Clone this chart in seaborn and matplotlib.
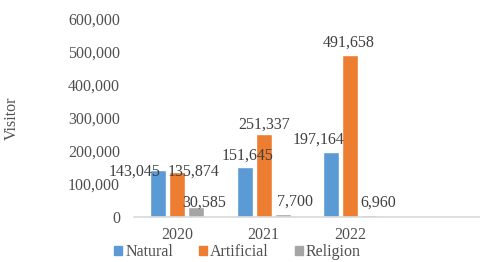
import matplotlib
matplotlib.use("Agg")
import matplotlib.pyplot as plt
import seaborn as sns
import pandas as pd
from matplotlib.ticker import FuncFormatter

# data
years = ["2020", "2021", "2022"]
types = ["Natural", "Artificial", "Religion"]
natural = [143045, 151645, 197164]
artificial = [135874, 251337, 491658]
religion = [30585, 7700, 6960]

colors = ["#5B9BD5", "#ED7D31", "#A5A5A5"]
# label nudges (points) so the numbers sit roughly where they were in the original
label_offsets = {
    "Natural": [(-17, -1.5), (2, 8), (-9, 8.5)],
    "Artificial": [(12, 0), (0, 7), (-1, 8.5)],
    "Religion": [(6, 3), (9, 9), (6.5, 8.5)],
}

df = pd.DataFrame({
    "year": years * 3,
    "type": [t for t in types for _ in years],
    "visitor": natural + artificial + religion,
})

sns.set_style("white")
plt.rcParams["font.family"] = ["Liberation Serif", "DejaVu Serif"]
plt.rcParams["font.size"] = 11.5

fig = plt.figure(figsize=(4.8, 2.62), dpi=100)
ax = fig.add_axes([0.279, 0.172, 0.721, 0.756])

sns.barplot(data=df, x="year", y="visitor", hue="type", order=years,
            hue_order=types, palette=colors, width=0.66, gap=0.15,
            saturation=1, ax=ax)

ax.set_xlim(-0.5, 3.5)
ax.set_ylim(0, 600000)
ax.set_yticks(range(0, 600001, 100000))
ax.yaxis.set_major_formatter(FuncFormatter(lambda v, _: f"{int(v):,}"))
ax.tick_params(axis="both", length=0, colors="#505050", labelsize=11.5)
ax.tick_params(axis="y", pad=10)
ax.tick_params(axis="x", pad=7)

for s in ["top", "right", "left"]:
    ax.spines[s].set_visible(False)
ax.spines["bottom"].set_color("#D9D9D9")
ax.spines["bottom"].set_linewidth(1.2)

ax.set_xlabel("")
ax.set_ylabel("Visitor", fontsize=11.5, color="#505050")
ax.yaxis.set_label_coords(-0.33, 0.5)

# data labels
for cont, t in zip(ax.containers, types):
    for bar, (dx, dy) in zip(cont, label_offsets[t]):
        h = bar.get_height()
        ax.annotate(f"{int(h):,}", xy=(bar.get_x() + bar.get_width() / 2, h),
                    xytext=(dx, dy), textcoords="offset points",
                    ha="center", va="center", fontsize=11.5, color="#404040")

ax.legend_.remove()
handles = [plt.Rectangle((0, 0), 1, 1, color=c) for c in colors]
fig.legend(handles, types, loc="center", bbox_to_anchor=(0.495, 10 / 262),
           ncol=3, frameon=False, handlelength=0.5, handleheight=0.5,
           handletextpad=0.2, columnspacing=1.6, fontsize=11.5,
           labelcolor="#505050")

fig.savefig("out.png", dpi=100)
